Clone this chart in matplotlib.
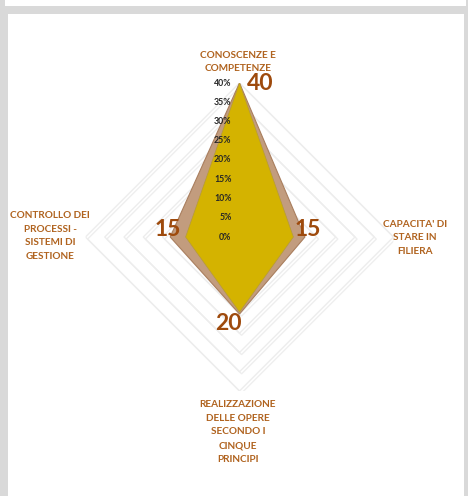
import numpy as np
import matplotlib
matplotlib.use('Agg')
import matplotlib.pyplot as plt
import matplotlib.patheffects as pe
from matplotlib.patches import Rectangle

# ===== Data =====
categories = [
    "CONOSCENZE E\nCOMPETENZE",
    "CAPACITA' DI\nSTARE IN\nFILIERA",
    "REALIZZAZIONE\nDELLE OPERE\nSECONDO I\nCINQUE\nPRINCIPI",
    "CONTROLLO DEI\nPROCESSI -\nSISTEMI DI\nGESTIONE",
]
outer_values = [40, 17, 20, 18]      # brown series
inner_values = [40, 14, 19.5, 14]    # yellow series
point_labels = ["40", "15", "20", "15"]
r_ticks = [0, 5, 10, 15, 20, 25, 30, 35, 40]
r_tick_labels = [f"{t}%" for t in r_ticks]

# ===== Style =====
plt.rcParams['font.family'] = ['Lato', 'DejaVu Sans']
W, H = 468, 496
LABEL_COLOR = '#B0631F'
VALUE_COLOR = '#9E4A0C'
BROWN = '#C29C7E'
YELLOW = '#D4B300'


def fx(x):
    return x / W


def fy(y):
    return 1 - y / H


fig = plt.figure(figsize=(W / 100, H / 100), dpi=100)
fig.patch.set_facecolor('#d9d9d9')
# white panels of the frame
fig.patches.append(Rectangle((fx(8), 0), fx(464) - fx(8), fy(14), transform=fig.transFigure,
                             facecolor='white', edgecolor='none', zorder=-1))
fig.patches.append(Rectangle((fx(5), fy(5.5)), fx(466) - fx(5), 1 - fy(5.5), transform=fig.transFigure,
                             facecolor='white', edgecolor='none', zorder=-1))

# radar axes: centre (239.5, 237), radius 154 px for 40%
cx, cy, rad = 239.5, 237, 154
ax = fig.add_axes([fx(cx - rad), fy(cy + rad), (2 * rad) / W, (2 * rad) / H], projection='polar')
ax.set_zorder(1)
ax.set_theta_zero_location('N')
ax.set_theta_direction(-1)
ax.set_ylim(0, 40)
ax.set_facecolor('none')
ax.spines['polar'].set_visible(False)
ax.grid(False)
ax.set_xticks([])
ax.set_yticks([])

theta = np.arange(len(categories)) * 2 * np.pi / len(categories)
theta_closed = np.append(theta, theta[0])

# diamond gridlines (light with a soft shadow)
grid_fx = [pe.SimpleLineShadow(offset=(1.5, -1.5), shadow_color='#cfcfcf', alpha=0.35), pe.Normal()]
for t in r_ticks[1:]:
    ax.plot(theta_closed, [t] * len(theta_closed), color='#ededed', lw=1.0, zorder=1,
            solid_joinstyle='miter', path_effects=grid_fx)

ax.fill(theta_closed, outer_values + outer_values[:1], facecolor=BROWN, zorder=2,
        edgecolor='#A97E5E', lw=0.8)
ax.fill(theta_closed, inner_values + inner_values[:1], facecolor=YELLOW, zorder=3,
        edgecolor='#B59A3A', lw=0.5)

# r tick labels
for t, lab in zip(r_ticks, r_tick_labels):
    ax.annotate(lab, (0, t), xytext=(-8, 0), textcoords='offset pixels', ha='right',
                va='center', fontsize=6.3, fontweight='bold', color='#262626', zorder=5)

# value labels
value_offsets = [(21, 0), (14, 7), (-11, -11), (-18, 8)]
for th, v, lab, off in zip(theta, inner_values, point_labels, value_offsets):
    ax.annotate(lab, (th, v), xytext=off, textcoords='offset pixels', ha='center',
                va='center', fontsize=16.5, fontweight='bold', color=VALUE_COLOR, zorder=6)

# category labels
cat_pos = [(238, 62), (415, 238), (238, 432), (50, 236)]
for lab, (x, y) in zip(categories, cat_pos):
    fig.text(fx(x), fy(y), lab, ha='center', va='center', fontsize=7.2, fontweight='bold',
             color=LABEL_COLOR, linespacing=1.65)

fig.savefig('out.png', dpi=100, facecolor=fig.get_facecolor())
